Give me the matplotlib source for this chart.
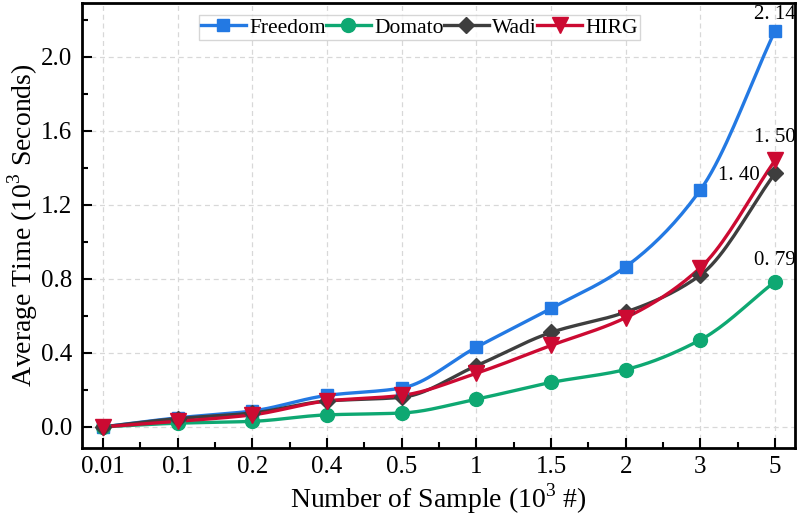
import numpy as np
import matplotlib
matplotlib.use("Agg")
import matplotlib.pyplot as plt
from matplotlib.ticker import MultipleLocator

categories = ["0.01", "0.1", "0.2", "0.4", "0.5", "1", "1.5", "2", "3", "5"]
freedom = [0.0, 0.049, 0.086, 0.17, 0.21, 0.43, 0.64, 0.865, 1.28, 2.14]
domato = [0.0, 0.02, 0.03, 0.065, 0.075, 0.15, 0.24, 0.31, 0.47, 0.785]
wadi = [0.0, 0.045, 0.075, 0.14, 0.16, 0.33, 0.51, 0.62, 0.82, 1.37]
hirg = [0.0, 0.03, 0.065, 0.14, 0.17, 0.29, 0.44, 0.59, 0.86, 1.44]
end_labels = ["2. 14", "0. 79", "1. 40", "1. 50"]

plt.rcParams['font.family'] = ['Liberation Serif', 'DejaVu Serif']
plt.rcParams['mathtext.fontset'] = 'custom'
plt.rcParams['mathtext.rm'] = 'Liberation Serif'

def pchip(x, y, n=20):
    x = np.asarray(x, float); y = np.asarray(y, float)
    h = np.diff(x); d = np.diff(y) / h
    m = np.zeros_like(y)
    for k in range(1, len(x) - 1):
        if d[k-1] * d[k] > 0:
            w1 = 2*h[k] + h[k-1]; w2 = h[k] + 2*h[k-1]
            m[k] = (w1 + w2) / (w1/d[k-1] + w2/d[k])
    m[0] = d[0]; m[-1] = d[-1]
    xs, ys = [], []
    for k in range(len(x) - 1):
        t = np.linspace(0, 1, n, endpoint=False)
        h00 = 2*t**3 - 3*t**2 + 1; h10 = t**3 - 2*t**2 + t
        h01 = -2*t**3 + 3*t**2; h11 = t**3 - t**2
        xs.append(x[k] + t*h[k])
        ys.append(h00*y[k] + h10*h[k]*m[k] + h01*y[k+1] + h11*h[k]*m[k+1])
    xs.append([x[-1]]); ys.append([y[-1]])
    return np.concatenate(xs), np.concatenate(ys)

fig = plt.figure(figsize=(8, 5.23), dpi=100)
ax = fig.add_axes([0.1025, 0.1434, 0.8915, 0.8509])

x = np.arange(len(categories))
series = [
    ("Freedom", freedom, "#2379e3", "s", 9),
    ("Domato", domato, "#0ea872", "o", 10),
    ("Wadi", wadi, "#3e3e3e", "D", 8),
    ("HIRG", hirg, "#cc0a32", "v", 11),
]
for name, vals, col, mk, ms in series:
    xs, ys = pchip(x, vals)
    ax.plot(xs, ys, color=col, lw=2.4, zorder=3)
    ax.plot(x, vals, linestyle='none', marker=mk, color=col, ms=ms, zorder=4)
    ax.plot([], [], color=col, lw=2.4, marker=mk, ms=ms, label=name)

fs_ann = 15
ax.text(x[-1], freedom[-1] + 0.035, end_labels[0], ha='center', va='bottom', fontsize=fs_ann)
ax.text(x[-1], hirg[-1] + 0.07, end_labels[3], ha='center', va='bottom', fontsize=fs_ann)
ax.text(x[-1] - 0.2, wadi[-1] - 0.01, end_labels[2], ha='right', va='center', fontsize=fs_ann)
ax.text(x[-1], domato[-1] + 0.06, end_labels[1], ha='center', va='bottom', fontsize=fs_ann)

ax.set_xlim(-0.28, 9.27)
ax.set_ylim(-0.114, 2.29)
ax.set_xticks(x)
ax.set_xticklabels(categories)
ax.xaxis.set_minor_locator(MultipleLocator(0.5))
ax.yaxis.set_major_locator(MultipleLocator(0.4))
ax.yaxis.set_minor_locator(MultipleLocator(0.2))
ax.yaxis.set_major_formatter(matplotlib.ticker.FormatStrFormatter('%.1f'))
ax.tick_params(which='both', direction='in', labelsize=18, width=1.5)
ax.tick_params(which='major', length=7)
ax.tick_params(axis='x', which='major', pad=6)
ax.tick_params(axis='y', which='major', pad=7)
ax.tick_params(which='minor', length=4)
for s in ax.spines.values():
    s.set_linewidth(2)
ax.grid(True, which='major', linestyle=(0, (4, 3)), color='#d8d8d8', lw=0.9, zorder=0)

ax.set_xlabel("Number of Sample (10$^3$ #)", fontsize=20, labelpad=2)
ax.set_ylabel("Average Time (10$^3$ Seconds)", fontsize=20, labelpad=1)

leg = ax.legend(loc='upper center', bbox_to_anchor=(0.473, 0.972), ncol=4, fontsize=15.5,
                frameon=True, fancybox=False, handlelength=2.1, columnspacing=0.0,
                handletextpad=0.15, borderpad=0.1, borderaxespad=0)
leg.get_frame().set_edgecolor('#cccccc')
leg.get_frame().set_linewidth(1)

fig.savefig("out.png", dpi=100)
